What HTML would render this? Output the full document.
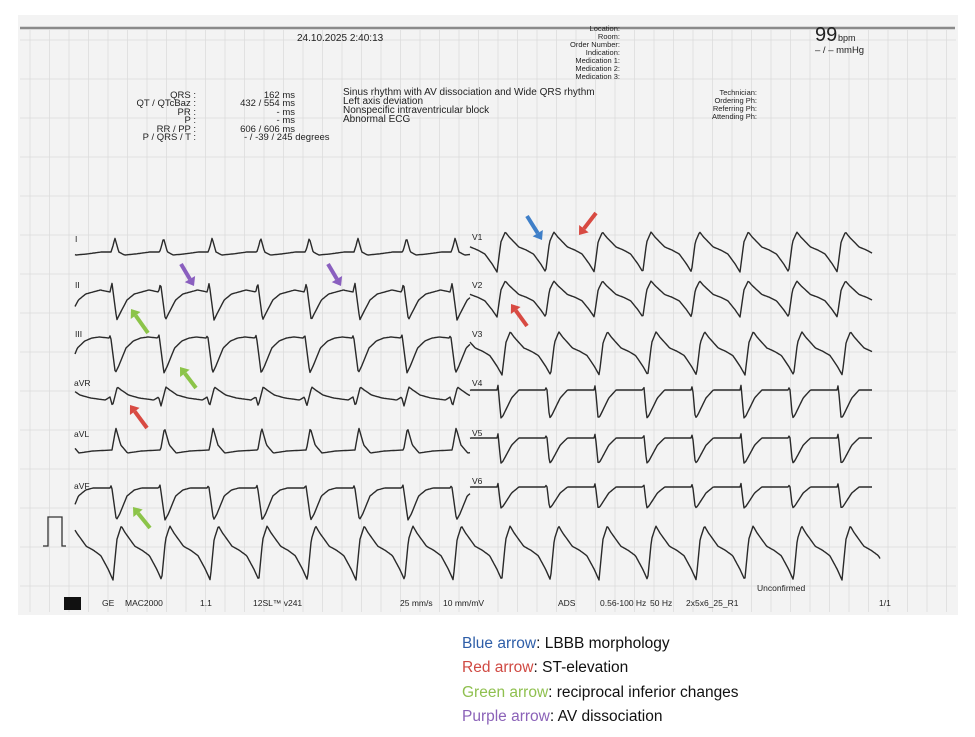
<!DOCTYPE html>
<html><head><meta charset="utf-8">
<style>
html,body{margin:0;padding:0;background:#fff;}
body{width:975px;height:737px;overflow:hidden;position:relative;font-family:"Liberation Sans",sans-serif;}
svg{position:absolute;left:0;top:0;}
.t{font-family:"Liberation Sans",sans-serif;fill:#222;}
.leg{position:absolute;left:462px;font-size:15.5px;color:#111;line-height:18px;}
</style></head>
<body>
<svg id="s" width="975" height="737" viewBox="0 0 975 737" xmlns="http://www.w3.org/2000/svg">
<rect x="18" y="15" width="940" height="600" fill="#f3f3f3"/>
<g id="grid" stroke="#dcdcdc" stroke-width="0.8"></g>
<line x1="20" y1="28" x2="955" y2="28" stroke="#8a8a8a" stroke-width="2.5"/>
<g class="t" font-size="10">
<text x="297" y="41">24.10.2025  2:40:13</text>
<text x="815" y="41" font-size="20">99</text><text x="838" y="41" font-size="9">bpm</text>
<text x="815" y="53" font-size="9.5">– / – mmHg</text>
</g>
<g class="t" font-size="7.5" text-anchor="end">
<text x="620" y="31">Location:</text><text x="620" y="39">Room:</text><text x="620" y="47">Order Number:</text>
<text x="620" y="55">Indication:</text><text x="620" y="63">Medication 1:</text><text x="620" y="71">Medication 2:</text>
<text x="620" y="79">Medication 3:</text>
<text x="757" y="95">Technician:</text><text x="757" y="103">Ordering Ph:</text><text x="757" y="111">Referring Ph:</text><text x="757" y="119">Attending Ph:</text>
</g>
<g class="t" font-size="9.5" text-anchor="end">
<text x="196" y="98">QRS :</text><text x="196" y="106">QT / QTcBaz :</text><text x="196" y="115">PR :</text>
<text x="196" y="123">P :</text><text x="196" y="132">RR / PP :</text><text x="196" y="140">P / QRS / T :</text>
<text x="295" y="98">162 ms</text><text x="295" y="106">432 / 554 ms</text><text x="295" y="115">- ms</text>
<text x="295" y="123">- ms</text><text x="295" y="132">606 / 606 ms</text>
</g>
<text class="t" font-size="9.5" x="244" y="140">- / -39 / 245 degrees</text>
<g class="t" font-size="10">
<text x="343" y="95">Sinus rhythm with AV dissociation and Wide QRS rhythm</text>
<text x="343" y="104">Left axis deviation</text>
<text x="343" y="113">Nonspecific intraventricular block</text>
<text x="343" y="122">Abnormal ECG</text>
</g>
<g class="t" font-size="8.5">
<text x="75" y="242">I</text><text x="75" y="288">II</text><text x="75" y="337">III</text><text x="74" y="386">aVR</text>
<text x="74" y="437">aVL</text><text x="74" y="489">aVF</text>
<text x="472" y="240">V1</text><text x="472" y="288">V2</text><text x="472" y="337">V3</text><text x="472" y="386">V4</text>
<text x="472" y="436">V5</text><text x="472" y="484">V6</text>
</g>
<path d="M43 546 L48 546 L48 517 L62 517 L62 546 L66 546" fill="none" stroke="#333" stroke-width="1.3"/>
<g id="waves" fill="none" stroke="#2a2a2a" stroke-width="1.4" stroke-linejoin="round"></g>
<rect x="64" y="597" width="17" height="13" fill="#111"/>
<g class="t" font-size="8.5">
<text x="102" y="606">GE</text><text x="125" y="606">MAC2000</text><text x="200" y="606">1.1</text>
<text x="253" y="606">12SL™ v241</text><text x="400" y="606">25 mm/s</text><text x="443" y="606">10 mm/mV</text>
<text x="558" y="606">ADS</text><text x="600" y="606">0.56-100 Hz</text><text x="650" y="606">50 Hz</text>
<text x="686" y="606">2x5x6_25_R1</text><text x="757" y="591">Unconfirmed</text><text x="879" y="606">1/1</text>
</g>
<g id="arrows"></g>
</svg>
<div class="leg" style="top:635px"><span style="color:#2e5ea8">Blue arrow</span>: LBBB morphology</div>
<div class="leg" style="top:659px"><span style="color:#d04a43">Red arrow</span>: ST-elevation</div>
<div class="leg" style="top:684px"><span style="color:#8fc04f">Green arrow</span>: reciprocal inferior changes</div>
<div class="leg" style="top:708px"><span style="color:#8b62b8">Purple arrow</span>: AV dissociation</div>
<script>
var NS="http://www.w3.org/2000/svg";
var g=document.getElementById("grid"),gd="";
for(var x=30;x<958;x+=19.5){gd+="M"+x.toFixed(1)+" 30V612";}
for(var y=40;y<612;y+=39){gd+="M20 "+y.toFixed(1)+"H956";}
var gp=document.createElementNS(NS,"path");gp.setAttribute("d",gd);g.appendChild(gp);
function f(k,p){for(var i=1;i<k.length;i++){if(p<=k[i][0]){var a=k[i-1],b=k[i];return a[1]+(b[1]-a[1])*(p-a[0])/(b[0]-a[0]);}}return k[k.length-1][1];}
function wave(x1,x2,x0,P,y0,k){var d="";for(var x=x1;x<=x2;x+=1){var p=((x-x0)/P)%1;if(p<0)p+=1;var y=y0+f(k,p);d+=(x==x1?"M":"L")+x+" "+y.toFixed(1);}
var e=document.createElementNS(NS,"path");e.setAttribute("d",d);document.getElementById("waves").appendChild(e);}
var P=48.6;
var kI=[[0,0],[0.04,-6],[0.08,-14],[0.16,0],[0.28,3],[0.5,2],[0.8,0],[1,0]];
var kII=[[0,0],[0.04,-9],[0.14,28],[0.2,22],[0.35,8],[0.5,2],[0.65,0],[0.8,-2],[1,0]];
var kIII=[[0,0],[0.03,-3],[0.13,35],[0.2,28],[0.35,10],[0.5,3],[0.65,0],[0.8,-1],[1,0]];
var kaVR=[[0,0],[0.05,9],[0.15,-10],[0.23,-7],[0.38,-2],[0.6,1],[0.9,3],[1,0]];
var kaVL=[[0,0],[0.08,-22],[0.18,-5],[0.32,3],[0.6,1],[1,0]];
var kaVF=[[0,0],[0.03,-3],[0.13,32],[0.2,26],[0.35,8],[0.5,2],[0.65,0],[1,0]];
var kV1=[[0,0],[0.08,-30],[0.17,-40],[0.25,-35],[0.45,-25],[0.6,-22],[0.75,-18],[0.9,-8],[1,0]];
var kV4=[[0,0],[0.02,-5],[0.08,28],[0.12,26],[0.3,8],[0.45,0],[0.8,0],[1,0]];
function sc(k,s){return k.map(function(a){return [a[0],a[1]*s];});}
wave(75,470,111,P,252,kI);
wave(75,470,110,P,292,kII);
wave(75,470,109,P,338,kIII);
wave(75,470,110,P,397,kaVR);
wave(75,470,112,P,450,kaVL);
wave(75,470,110,P,488,kaVF);
wave(75,880,113,P,580,sc(kV1,1.35));
wave(470,872,497,P,272,kV1);
wave(470,872,497,P,317,sc(kV1,0.9));
wave(470,872,502,P,375,sc(kV1,1.08));
wave(470,872,497,P,390,kV4);
wave(470,872,497,P,438,sc(kV4,0.9));
wave(470,872,497,P,487,sc(kV4,0.75));
function arrow(x1,y1,x2,y2,c){var dx=x2-x1,dy=y2-y1,L=Math.sqrt(dx*dx+dy*dy),ux=dx/L,uy=dy/L,nx=-uy,ny=ux;
var bx=x2-ux*8,by=y2-uy*8;var d="M"+x1+" "+y1+"L"+bx+" "+by;
var l=document.createElementNS(NS,"path");l.setAttribute("d",d);l.setAttribute("stroke",c);l.setAttribute("stroke-width","4");l.setAttribute("fill","none");
var h=document.createElementNS(NS,"polygon");h.setAttribute("points",x2+","+y2+" "+(bx+nx*6)+","+(by+ny*6)+" "+(bx-nx*6)+","+(by-ny*6));h.setAttribute("fill",c);
var a=document.getElementById("arrows");a.appendChild(l);a.appendChild(h);}
var B="#3f7fc8",R="#d84a42",G="#8cc449",U="#8a5fbf";
arrow(527,216,542,240,B);
arrow(596,213,579,235,R);
arrow(181,264,194,286,U);
arrow(328,264,341,286,U);
arrow(148,333,131,309,G);
arrow(196,388,180,367,G);
arrow(147,428,130,405,R);
arrow(527,326,511,304,R);
arrow(150,528,133,507,G);
</script>
</body></html>
